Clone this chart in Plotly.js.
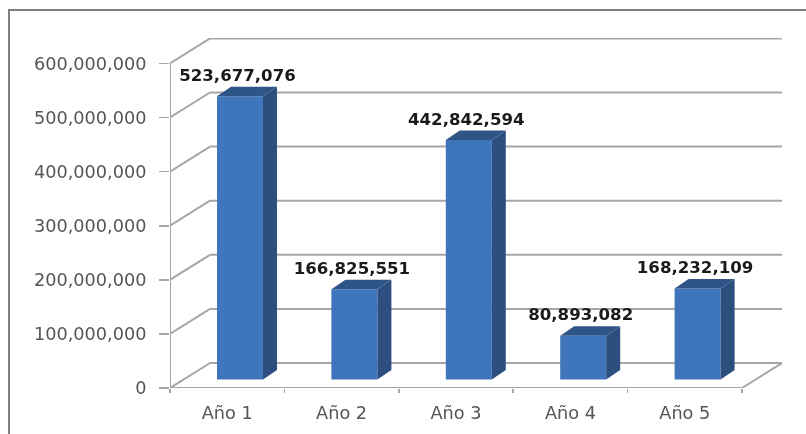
<!DOCTYPE html>
<html><head><meta charset="utf-8">
<script src="https://cdn.plot.ly/plotly-3.0.1.min.js"></script>
<style>
html,body{margin:0;padding:0;background:#fff;overflow:hidden}
#wrap{position:relative;width:806px;height:434px;filter:blur(0.7px)}
#frame{position:absolute;left:8px;top:9px;width:800px;height:430px;border-left:2px solid #808080;border-top:2px solid #808080;box-sizing:border-box;pointer-events:none}
#chart{position:absolute;left:0;top:0;width:806px;height:434px}
</style></head><body>
<div id="wrap"><div id="chart"></div><div id="frame"></div></div>
<script>
const categories = ["Año 1","Año 2","Año 3","Año 4","Año 5"];
const values = [523677076,166825551,442842594,80893082,168232109];
const valueLabels = ["523,677,076","166,825,551","442,842,594","80,893,082","168,232,109"];
const yTicks = [0,100000000,200000000,300000000,400000000,500000000,600000000];
const yTickLabels = ["0","100,000,000","200,000,000","300,000,000","400,000,000","500,000,000","600,000,000"];

const PX_X = 114.4, PX_Y = 54.1/100000000;
const wallDX = 40/PX_X, wallDY = 25/PX_Y;
const barOffsetX = 70/PX_X - 0, barBase = 8.5/PX_Y;
const barW = 46/PX_X, sideDX = 14/PX_X, sideDY = 9.5/PX_Y;
const labelDX = -2.5/PX_X, labelDY = 19.5/PX_Y;
const xMax = 612/PX_X, yMax = 350/PX_Y;
const n = categories.length;
const centers = categories.map((_,i)=>i+barOffsetX);

const gridColor = "#a6a6a6";
const line = (x0,y0,x1,y1)=>({type:"line",layer:"below",xref:"x",yref:"y",x0,y0,x1,y1,line:{color:gridColor,width:2}});
const shapes = [];
yTicks.forEach(v=>{
  shapes.push(line(0,v,wallDX,v+wallDY));
  shapes.push(line(wallDX,v+wallDY,xMax,v+wallDY));
});
shapes.push(line(0,0,0,yTicks[yTicks.length-1]));
shapes.push(line(0,0,n,0));
shapes.push(line(n,0,n+wallDX,wallDY));

const front = {type:"bar",x:centers,y:values,base:barBase,width:barW,
  marker:{color:"#3f75bb",line:{width:0}},hoverinfo:"skip",showlegend:false};
const sx=[],sy=[],tx=[],ty=[];
values.forEach((v,i)=>{
  const r=centers[i]+barW/2,l=centers[i]-barW/2,top=v+barBase;
  sx.push(r,r+sideDX,r+sideDX,r,r,null);
  sy.push(barBase,barBase+sideDY,top+sideDY,top,barBase,null);
  tx.push(l,l+sideDX,r+sideDX,r,l,null);
  ty.push(top,top+sideDY,top+sideDY,top,top,null);
});
const side={type:"scatter",mode:"lines",x:sx,y:sy,fill:"toself",fillcolor:"#2c4f80",line:{width:0},hoverinfo:"skip",showlegend:false};
const topFace={type:"scatter",mode:"lines",x:tx,y:ty,fill:"toself",fillcolor:"#2f5587",line:{width:0},hoverinfo:"skip",showlegend:false};
const labels={type:"scatter",mode:"text",x:centers.map(c=>c+labelDX),
  y:values.map(v=>v+barBase+labelDY),text:valueLabels,textposition:"middle center",
  textfont:{family:"DejaVu Sans",size:16.6,color:"#1a1a1a",weight:700},hoverinfo:"skip",showlegend:false};

const layout={width:806,height:434,margin:{l:170,r:24,t:38,b:46,pad:0},
  paper_bgcolor:"#fff",plot_bgcolor:"rgba(0,0,0,0)",showlegend:false,shapes,
  xaxis:{range:[0,xMax],tickmode:"array",tickvals:categories.map((_,i)=>i+0.5),ticktext:categories,
    ticks:"",ticklen:0,showgrid:false,zeroline:false,showline:false,ticklabelstandoff:12,
    tickfont:{family:"DejaVu Sans",size:17.7,color:"#555555"},
    minor:{tickmode:"array",tickvals:Array.from({length:n+1},(_,i)=>i),ticks:"outside",ticklen:4,tickwidth:1.6,tickcolor:gridColor,showgrid:false}},
  yaxis:{range:[0,yMax],tickmode:"array",tickvals:yTicks,ticktext:yTickLabels,
    ticks:"outside",ticklen:10,tickwidth:1.6,tickcolor:gridColor,showgrid:false,zeroline:false,showline:false,ticklabelstandoff:9,
    tickfont:{family:"DejaVu Sans",size:17.7,color:"#555555"}}
};
Plotly.newPlot("chart",[front,side,topFace,labels],layout,{displayModeBar:false,staticPlot:true});
</script></body></html>
